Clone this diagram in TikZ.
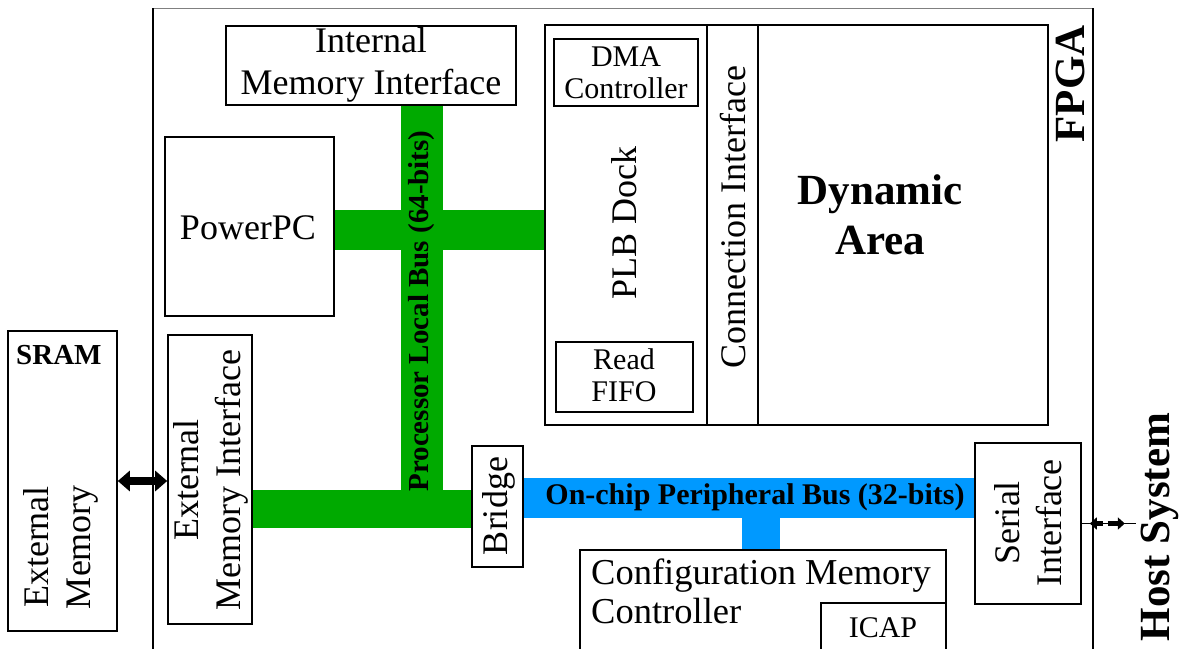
\documentclass[tikz,border=0pt]{standalone}
\usepackage{fontspec}
\setmainfont{Liberation Serif}
\usetikzlibrary{arrows.meta,fit,calc}
\definecolor{plbgreen}{RGB}{0,170,0}
\definecolor{opbblue}{RGB}{0,153,255}
\tikzset{
  blk/.style={draw=black, line width=1.6pt, inner sep=0pt, fill=white},
  t36/.style={font=\fontsize{36}{42}\selectfont, align=center, inner sep=0pt},
  t30/.style={font=\fontsize{30}{32}\selectfont, align=center, inner sep=0pt},
  b43/.style={font=\fontsize{43}{50}\selectfont\bfseries, align=center, inner sep=0pt},
  b29/.style={font=\fontsize{29}{33}\selectfont\bfseries, align=center, inner sep=0pt},
  greenbus/.style={fill=plbgreen, draw=none},
  bluebus/.style={fill=opbblue, draw=none},
  bigarrow/.style={line width=8pt, {Triangle[length=12pt,width=20pt]}-{Triangle[length=12pt,width=20pt]}},
  smallhead/.style={line width=5pt, -{Triangle[length=7pt,width=12pt]}},
}
\begin{document}
\begin{tikzpicture}[x=1pt,y=-1pt]
\useasboundingbox (0,0) rectangle (1182,648);
% FPGA outline
\draw[gray, line width=1pt] (153,8) -- (1093,8);
\draw[black, line width=2pt] (153,8) -- (153,660);
\draw[black, line width=2pt] (1093,8) -- (1093,660);
% buses
\fill[greenbus] (401,101) rectangle (443,528);
\fill[greenbus] (334,210) rectangle (545,250);
\fill[greenbus] (252,490) rectangle (472,528);
\fill[bluebus] (523,478) rectangle (975,518);
\fill[bluebus] (742,518) rectangle (780,550);
% boxes
\node[blk, fit={(226,26) (516,105)}] (imi) {};
\node[blk, fit={(165,137) (334,316)}] (ppc) {};
\node[blk, fit={(545,25) (1048,425)}] (dock) {};
\draw[line width=1.6pt] (707,25) -- (707,425);
\draw[line width=1.6pt] (758,25) -- (758,425);
\node[blk, fit={(554,39) (698,106)}] (dma) {};
\node[blk, fit={(556,342) (693,412)}] (fifo) {};
\node[blk, fit={(8,331) (117,631)}] (sram) {};
\node[blk, fit={(168,335) (252,624)}] (emi) {};
\node[blk, fit={(472,446) (523,567)}] (bridge) {};
\node[blk, fit={(580,550) (946,660)}] (cmc) {};
\node[blk, fit={(821,603) (946,660)}] (icap) {};
\node[blk, fit={(975,443) (1081,604)}] (serial) {};
% labels
\node[t36] (imiT) at (371,65) {Internal\\Memory Interface};
\node[t36] (ppcT) at (248,228) {PowerPC};
\node[b29, rotate=90] (plbT) at (422,311) {Processor Local Bus (64-bits)};
\node[t36, rotate=90] (dockT) at (624,223) {PLB Dock};
\node[t36, rotate=90] (ciT) at (733,217) {Connection Interface};
\node[b43] (dynT) at (880,215) {Dynamic\\Area};
\node[b43, rotate=90] (fpgaT) at (1070,84) {FPGA};
\node[t30] (dmaT) at (626,73) {DMA\\Controller};
\node[t30] (fifoT) at (624,375) {Read\\FIFO};
\node[b29, anchor=west] (sramT) at (16,355) {SRAM};
\node[t36, rotate=90] (extT) at (61,547) {External\\Memory};
\node[t36, rotate=90] (emiT) at (211,480) {External\\Memory Interface};
\node[t36, rotate=90] (bridgeT) at (499,506) {Bridge};
\node[b29, font=\fontsize{30}{33}\selectfont\bfseries] (opbT) at (755,497) {On-chip Peripheral Bus (32-bits)};
\node[t36, align=left, anchor=west, font=\fontsize{36.5}{39}\selectfont] (cmcT) at (591,591) {Configuration Memory\\Controller};
\node[t30] (icapT) at (883,628) {ICAP};
\node[t36, rotate=90] (serialT) at (1028,523) {Serial\\Interface};
\node[b43, rotate=90] (hostT) at (1160,527) {Host System};
% connectors
\draw[bigarrow] (sram.east) -- (sram.east -| emi.west);
\coordinate (hostend) at ($(serial.east)+(54,0)$);
\draw[line width=1.2pt] (serial.east) -- (hostend);
\draw[smallhead] ($(serial.east)+(21,0)$) -- ($(serial.east)+(8,0)$);
\draw[smallhead] ($(serial.east)+(26,0)$) -- ($(serial.east)+(43,0)$);
\end{tikzpicture}
\end{document}
